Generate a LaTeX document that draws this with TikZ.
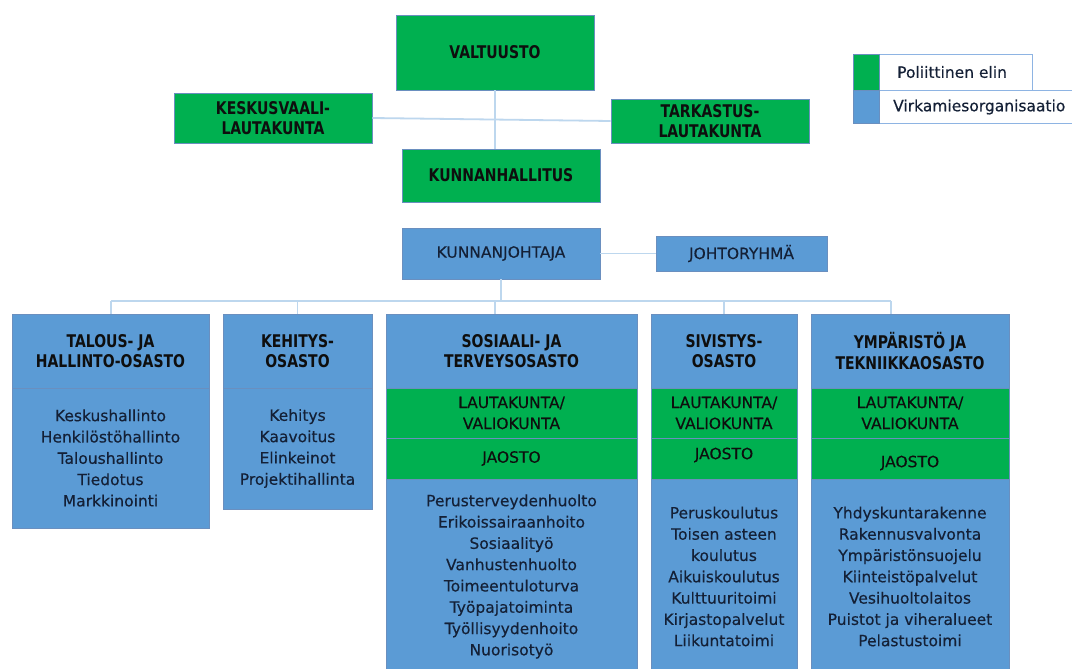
\documentclass[tikz,border=0pt]{standalone}
\usepackage{fontspec}
\setmainfont{DejaVu Sans}[FakeBold=0.35]
\newfontfamily\headfont{DejaVu Sans}[FakeStretch=0.8]

\definecolor{grn}{HTML}{00B050}
\definecolor{blu}{HTML}{5B9BD5}
\definecolor{bordc}{HTML}{6A8FBF}
\definecolor{wirec}{HTML}{BDD7EE}
\definecolor{legc}{HTML}{8EB4E3}
\definecolor{txtc}{HTML}{142036}
\definecolor{hdc}{HTML}{0E0E0E}

\tikzset{
  box/.style={draw=bordc, line width=0.9pt, inner sep=0pt, align=center},
  pol/.style={box, fill=grn, text=hdc},
  off/.style={box, fill=blu, text=txtc},
  legbox/.style={draw=legc, line width=0.9pt, fill=white, inner sep=0pt},
  hd/.style={font=\headfont\bfseries\fontsize{17.5}{20.5}\selectfont, text=hdc},
  rg/.style={font=\fontsize{15.5}{21.3}\selectfont},
  sub/.style={font=\fontsize{15.5}{21}\selectfont},
  legtxt/.style={font=\fontsize{15.5}{18}\selectfont, text=txtc, anchor=west, inner sep=0pt},
  wire/.style={draw=wirec, line width=1.8pt}
}

% \orgbox{style}{name}{x1}{y1}{x2}{y2}{text}: a box given by its corners
\newcommand\orgbox[7]{%
  \node[#1, minimum width={(#5-#3)*1pt}, minimum height={(#6-#4)*1pt}]
    (#2) at ({(#3+#5)/2},{(#4+#6)/2}) {#7};}

\begin{document}
\begin{tikzpicture}[x=1pt, y=-1pt]
\useasboundingbox (0,0) rectangle (1072,669);
\fill[white] (0,0) rectangle (1072,669);
\clip (0,0) rectangle (1072,669);

% connector coordinates
\coordinate (busL) at (111,301);
\coordinate (busR) at (891,301);
\coordinate (sosd) at (495,301);

% political top level
\orgbox{pol,hd}{valt}{396}{15}{594}{90}{VALTUUSTO}
\orgbox{pol,hd}{kesk}{174}{93}{372}{143}{KESKUSVAALI-\\LAUTAKUNTA}
\orgbox{pol,hd}{tark}{611}{99}{809}{143}{TARKASTUS-\\LAUTAKUNTA}
\orgbox{pol,hd}{khal}{402}{149}{600}{202}{KUNNANHALLITUS}
\orgbox{off,rg}{kjoh}{402}{228}{600}{279}{KUNNANJOHTAJA}
\orgbox{off,rg}{jory}{656}{236}{827}{271}{JOHTORYHMÄ}

% connectors
\draw[wire] (valt.south) -- (valt.south |- khal.north);
\draw[wire] (kesk.east) -- (tark.west);
\draw[wire] (kjoh.east) -- (jory.west);
\draw[wire] (kjoh.south) -- (kjoh.south |- busL);
\draw[wire] (busL) -- (busR);

% departments
\orgbox{off,hd}{talh}{12}{314}{209}{388}{TALOUS- JA\\HALLINTO-OSASTO}
\orgbox{off,rg}{talb}{12}{388}{209}{528}{Keskushallinto\\Henkilöstöhallinto\\Taloushallinto\\Tiedotus\\Markkinointi}

\orgbox{off,hd}{kehh}{223}{314}{372}{388}{KEHITYS-\\OSASTO}
\orgbox{off,rg}{kehb}{223}{388}{372}{509}{Kehitys\\Kaavoitus\\Elinkeinot\\Projektihallinta}

\orgbox{off,hd}{sosh}{386}{314}{637}{388}{SOSIAALI- JA\\TERVEYSOSASTO}
\orgbox{pol,sub}{sosl}{386}{388}{637}{438}{LAUTAKUNTA/\\VALIOKUNTA}
\orgbox{pol,sub}{sosj}{386}{438}{637}{479}{JAOSTO}
\orgbox{off,rg}{sosb}{386}{479}{637}{674}{Perusterveydenhuolto\\Erikoissairaanhoito\\Sosiaalityö\\Vanhustenhuolto\\Toimeentuloturva\\Työpajatoiminta\\Työllisyydenhoito\\Nuorisotyö}

\orgbox{off,hd}{sivh}{651}{314}{797}{388}{SIVISTYS-\\OSASTO}
\orgbox{pol,sub}{sivl}{651}{388}{797}{438}{LAUTAKUNTA/\\VALIOKUNTA}
\orgbox{pol,sub}{sivj}{651}{438}{797}{479}{\raisebox{3.5pt}[\height][\depth]{JAOSTO}}
\orgbox{off,rg}{sivb}{651}{479}{797}{674}{Peruskoulutus\\Toisen asteen\\koulutus\\Aikuiskoulutus\\Kulttuuritoimi\\Kirjastopalvelut\\Liikuntatoimi}

\orgbox{off,hd}{ymph}{811}{314}{1009}{388}{YMPÄRISTÖ JA\\TEKNIIKKAOSASTO}
\orgbox{pol,sub}{ympl}{811}{388}{1009}{438}{LAUTAKUNTA/\\VALIOKUNTA}
\orgbox{pol,sub}{ympj}{811}{438}{1009}{479}{\raisebox{-4.5pt}[\height][\depth]{JAOSTO}}
\orgbox{off,rg}{ympb}{811}{479}{1009}{674}{Yhdyskuntarakenne\\Rakennusvalvonta\\Ympäristönsuojelu\\Kiinteistöpalvelut\\Vesihuoltolaitos\\Puistot ja viheralueet\\Pelastustoimi}

% drops from the bus to each department
\draw[wire] (busL) -- (busL |- talh.north);
\draw[wire] (kehh.north |- busL) -- (kehh.north);
\draw[wire] (sosd) -- (sosd |- sosh.north);
\draw[wire] (sivh.north |- busL) -- (sivh.north);
\draw[wire] (busR) -- (busR |- ymph.north);

% legend
\orgbox{legbox}{lgw1}{879}{54}{1032}{90}{}
\orgbox{legbox}{lgw2}{879}{90}{1085}{123}{}
\orgbox{pol}{lgg}{853}{54}{879}{90}{}
\orgbox{off}{lgb}{853}{90}{879}{123}{}
\node[legtxt] (lgt1) at (897,72) {Poliittinen elin};
\node[legtxt] (lgt2) at (893,107) {Virkamiesorganisaatio};
\end{tikzpicture}
\end{document}
